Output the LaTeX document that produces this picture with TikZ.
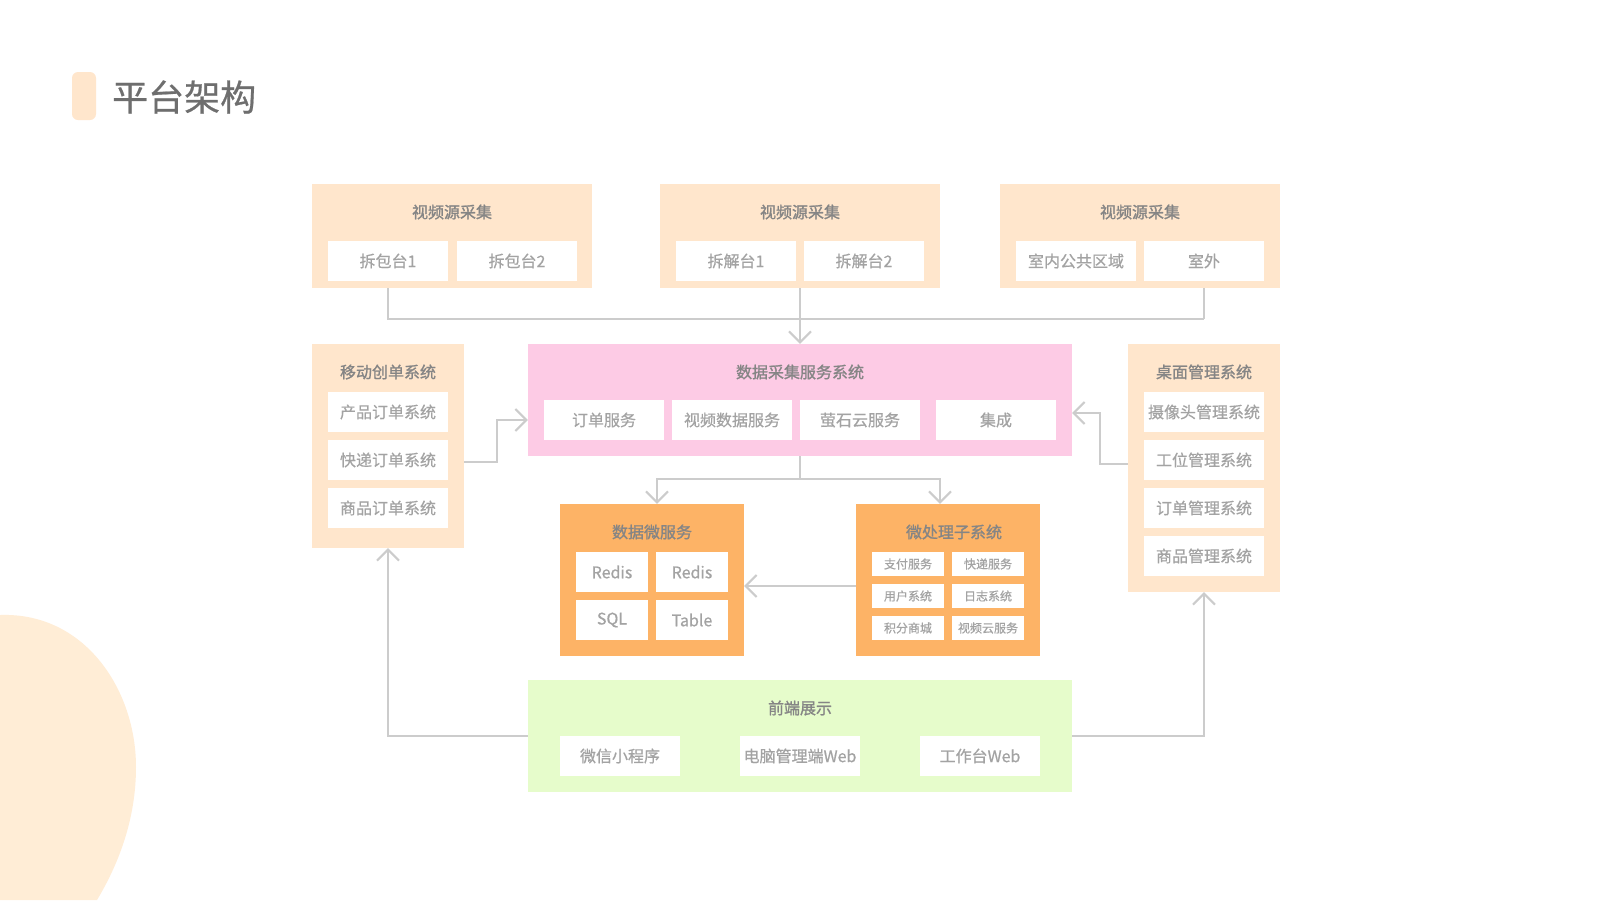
\documentclass[tikz,border=0pt]{standalone}
\usepackage{fontspec}
\setmainfont{Noto Sans CJK SC}
\newfontfamily\hdrfont[FakeBold=1.3]{Noto Sans CJK SC}
\newfontfamily\wfont[FakeBold=0.6]{Noto Sans CJK SC}
\usetikzlibrary{arrows.meta}
\definecolor{peach}{HTML}{FFE6CC}
\definecolor{blob}{HTML}{FFEDD6}
\definecolor{pinkbg}{HTML}{FDCBE5}
\definecolor{orangebg}{HTML}{FDB366}
\definecolor{greenbg}{HTML}{E6FCCB}
\definecolor{hdrtext}{HTML}{858585}
\definecolor{wtext}{HTML}{A3A3A3}
\definecolor{titletext}{HTML}{6E6E6E}
\definecolor{linec}{HTML}{CCCCCC}
\begin{document}
\begin{tikzpicture}[x=1pt,y=-1pt,
  grp/.style={draw=none,inner sep=0pt,minimum width=#1},
  hdr/.style={text=hdrtext,inner sep=0pt,font=\hdrfont\fontsize{16}{18}\selectfont},
  wbox/.style={fill=white,text=wtext,inner sep=0pt,minimum width=120pt,minimum height=40pt,font=\wfont\fontsize{16}{18}\selectfont},
  sbox/.style={fill=white,text=wtext,inner sep=0pt,minimum width=72pt,minimum height=40pt,font=\wfont\fontsize{16}{18}\selectfont},
  tbox/.style={fill=white,text=wtext,inner sep=0pt,minimum width=72pt,minimum height=24pt,font=\wfont\fontsize{12}{14}\selectfont},
  ln/.style={draw=linec,line width=2pt},
  arr/.style={ln,-{Straight Barb[length=11pt,width=22pt,line width=2pt]}}
]
\useasboundingbox (0,0) rectangle (1600,900);
\fill[white] (0,0) rectangle (1600,900);
% background blob
\fill[blob] (0,615) .. controls (85,612) and (136,690) .. (136,767) .. controls (136,820) and (118,865) .. (97,900) -- (0,900) -- cycle;
% title
\node[fill=peach,rounded corners=6pt,minimum width=24pt,minimum height=48pt,inner sep=0pt] (tbar) at (84,96) {};
\node[anchor=west,text=titletext,inner sep=0pt,font=\wfont\fontsize{36}{40}\selectfont] (title) at (112,97) {平台架构};

% top groups
\node[grp=280pt,fill=peach,minimum height=104pt] (t1) at (452,236) {};
\node[hdr] (t1h) at (452,212) {视频源采集};
\node[wbox] (a1) at (388,261) {拆包台1};
\node[wbox] (a2) at (517,261) {拆包台2};
\node[grp=280pt,fill=peach,minimum height=104pt] (t2) at (800,236) {};
\node[hdr] (t2h) at (800,212) {视频源采集};
\node[wbox] (b1) at (736,261) {拆解台1};
\node[wbox] (b2) at (864,261) {拆解台2};
\node[grp=280pt,fill=peach,minimum height=104pt] (t3) at (1140,236) {};
\node[hdr] (t3h) at (1140,212) {视频源采集};
\node[wbox] (c1) at (1076,261) {室内公共区域};
\node[wbox] (c2) at (1204,261) {室外};

% pink
\node[grp=544pt,fill=pinkbg,minimum height=112pt] (p) at (800,400) {};
\node[hdr] (ph) at (800,372) {数据采集服务系统};
\node[wbox] (p1) at (604,420) {订单服务};
\node[wbox] (p2) at (732,420) {视频数据服务};
\node[wbox] (p3) at (860,420) {萤石云服务};
\node[wbox] (p4) at (996,420) {集成};

% left
\node[grp=152pt,fill=peach,minimum height=204pt] (l) at (388,446) {};
\node[hdr] (lh) at (388,372) {移动创单系统};
\node[wbox] (l1) at (388,412) {产品订单系统};
\node[wbox] (l2) at (388,460) {快递订单系统};
\node[wbox] (l3) at (388,508) {商品订单系统};

% right
\node[grp=152pt,fill=peach,minimum height=248pt] (r) at (1204,468) {};
\node[hdr] (rh) at (1204,372) {桌面管理系统};
\node[wbox] (r1) at (1204,412) {摄像头管理系统};
\node[wbox] (r2) at (1204,460) {工位管理系统};
\node[wbox] (r3) at (1204,508) {订单管理系统};
\node[wbox] (r4) at (1204,556) {商品管理系统};

% data micro service
\node[grp=184pt,fill=orangebg,minimum height=152pt] (d) at (652,580) {};
\node[hdr] (dh) at (652,532) {数据微服务};
\node[sbox] (d1) at (612,572) {Redis};
\node[sbox] (d2) at (692,572) {Redis};
\node[sbox] (d3) at (612,620) {SQL};
\node[sbox] (d4) at (692,620) {Table};

% micro processing
\node[grp=184pt,fill=orangebg,minimum height=152pt] (m) at (948,580) {};
\node[hdr] (mh) at (954,532) {微处理子系统};
\node[tbox] (m1) at (908,564) {支付服务};
\node[tbox] (m2) at (988,564) {快递服务};
\node[tbox] (m3) at (908,596) {用户系统};
\node[tbox] (m4) at (988,596) {日志系统};
\node[tbox] (m5) at (908,628) {积分商城};
\node[tbox] (m6) at (988,628) {视频云服务};

% front end
\node[grp=544pt,fill=greenbg,minimum height=112pt] (g) at (800,736) {};
\node[hdr] (gh) at (800,708) {前端展示};
\node[wbox] (g1) at (620,756) {微信小程序};
\node[wbox] (g2) at (800,756) {电脑管理端Web};
\node[wbox] (g3) at (980,756) {工作台Web};

% junction coordinates
\coordinate (jt) at (800,319);
\coordinate (jb) at (800,479);
\coordinate (jl) at (497,420);
\coordinate (jr) at (1100,413);
\coordinate (dd) at (657,479);
\coordinate (mm) at (940,479);

% top connectors
\draw[ln] (a1 |- t1.south) -- (a1 |- jt) -- (c2 |- jt);
\draw[ln] (c2 |- t3.south) -- (c2 |- jt);
\draw[arr] (t2.south) -- (p.north);
% pink down to orange boxes
\draw[ln] (p.south) -- (jb);
\draw[arr] (jb) -- (dd) -- (dd |- d.north);
\draw[arr] (jb) -- (mm) -- (mm |- m.north);
% micro to data
\draw[arr] (m.west |- 0,586) -- (d.east |- 0,586);
% left to pink
\draw[arr] (l.east |- 0,462) -- (jl |- 0,462) -- (jl) -- (p.west |- jl);
% right to pink
\draw[arr] (r.west |- 0,464) -- (jr |- 0,464) -- (jr) -- (p.east |- jr);
% front end to side boxes
\draw[arr] (g.west) -- (l.south |- g.west) -- (l.south);
\draw[arr] (g.east) -- (r.south |- g.east) -- (r.south);
\end{tikzpicture}
\end{document}
